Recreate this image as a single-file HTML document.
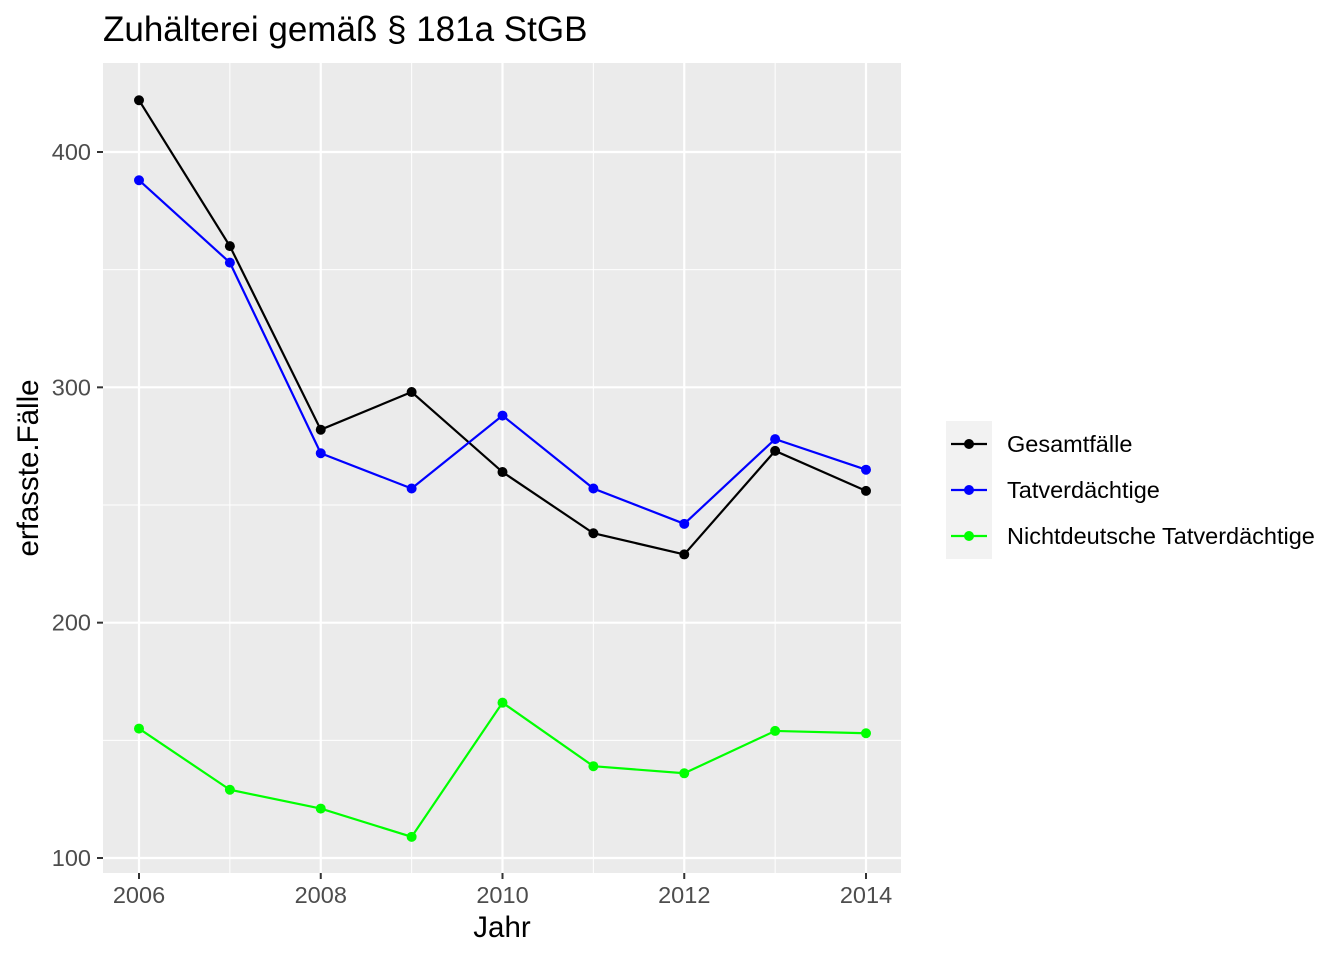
<!DOCTYPE html>
<html><head><meta charset="utf-8"><style>
body{margin:0;background:#fff;font-family:"Liberation Sans",sans-serif}
</style></head><body>
<svg id="chart" width="1344" height="960" xmlns="http://www.w3.org/2000/svg" font-family="Liberation Sans, sans-serif">
<rect width="1344" height="960" fill="#fff"/>
<text x="103" y="41" font-size="35" fill="#000">Zuhälterei gemäß § 181a StGB</text>
<rect x="103" y="63" width="798" height="810" fill="#ebebeb"/>
<g id="grid"></g>
<g id="series"></g>
<g id="axes"></g>
<text x="502" y="937" font-size="29.5" text-anchor="middle">Jahr</text>
<text transform="translate(38,468) rotate(-90)" font-size="29.5" text-anchor="middle">erfasste.Fälle</text>
<g id="legend">
<rect x="946" y="421" width="46" height="138" fill="#f2f2f2"/>
</g>
</svg>
<script>
const years=[2006,2007,2008,2009,2010,2011,2012,2013,2014];
const gesamt=[422,360,282,298,264,238,229,273,256];
const tatv=[388,353,272,257,288,257,242,278,265];
const nicht=[155,129,121,109,166,139,136,154,153];
const yTicks=[100,200,300,400];
const xTicks=[2006,2008,2010,2012,2014];
const seriesNames=["Gesamtfälle","Tatverdächtige","Nichtdeutsche Tatverdächtige"];
const ns="http://www.w3.org/2000/svg";
const X=v=>139+(v-2006)*(866-139)/8;
const Y=v=>858-(v-100)*(858-152)/300;
function mk(t,a,p){const e=document.createElementNS(ns,t);for(const k in a)e.setAttribute(k,a[k]);p.appendChild(e);return e;}
const grid=document.getElementById('grid'),axes=document.getElementById('axes'),ser=document.getElementById('series'),leg=document.getElementById('legend');
for(let v=150;v<=400;v+=100){const l=mk('line',{x1:103,x2:901,y1:Y(v),y2:Y(v),stroke:'#fff','stroke-width':1},grid);

}
for(let v=2007;v<=2013;v+=2){const l=mk('line',{x1:X(v),x2:X(v),y1:63,y2:873,stroke:'#fff','stroke-width':1},grid);

}
yTicks.forEach(v=>{const l=mk('line',{x1:103,x2:901,y1:Y(v),y2:Y(v),stroke:'#fff','stroke-width':2.2},grid);


mk('line',{x1:97,x2:103,y1:Y(v),y2:Y(v),stroke:'#333','stroke-width':2},axes);
const t=mk('text',{x:91,y:Y(v)+8,'font-size':23.5,fill:'#4d4d4d','text-anchor':'end'},axes);t.textContent=v;

});
xTicks.forEach(v=>{const l=mk('line',{x1:X(v),x2:X(v),y1:63,y2:873,stroke:'#fff','stroke-width':2.2},grid);


mk('line',{x1:X(v),x2:X(v),y1:873,y2:879,stroke:'#333','stroke-width':2},axes);
const t=mk('text',{x:X(v),y:903,'font-size':23.5,fill:'#4d4d4d','text-anchor':'middle'},axes);t.textContent=v;

});
const data=[gesamt,tatv,nicht],cols=['#000','#0000ff','#00ff00'],keys=['gesamtfaelle','tatverdaechtige','nichtdeutsche'];
data.forEach((d,i)=>{const p=mk('polyline',{points:d.map((v,j)=>X(years[j])+','+Y(v)).join(' '),fill:'none',stroke:cols[i],'stroke-width':2.2},ser);


d.forEach((v,j)=>{const c=mk('circle',{cx:X(years[j]),cy:Y(v),r:5,fill:cols[i]},ser);

});
const ly=444+i*46;
const g=mk('g',{},leg);


mk('line',{x1:951,x2:987,y1:ly,y2:ly,stroke:cols[i],'stroke-width':2.2},g);
mk('circle',{cx:969,cy:ly,r:5,fill:cols[i]},g);
const t=mk('text',{x:1007,y:ly+8,'font-size':23.5,fill:'#000'},g);t.textContent=seriesNames[i];});
</script>
</body></html>
